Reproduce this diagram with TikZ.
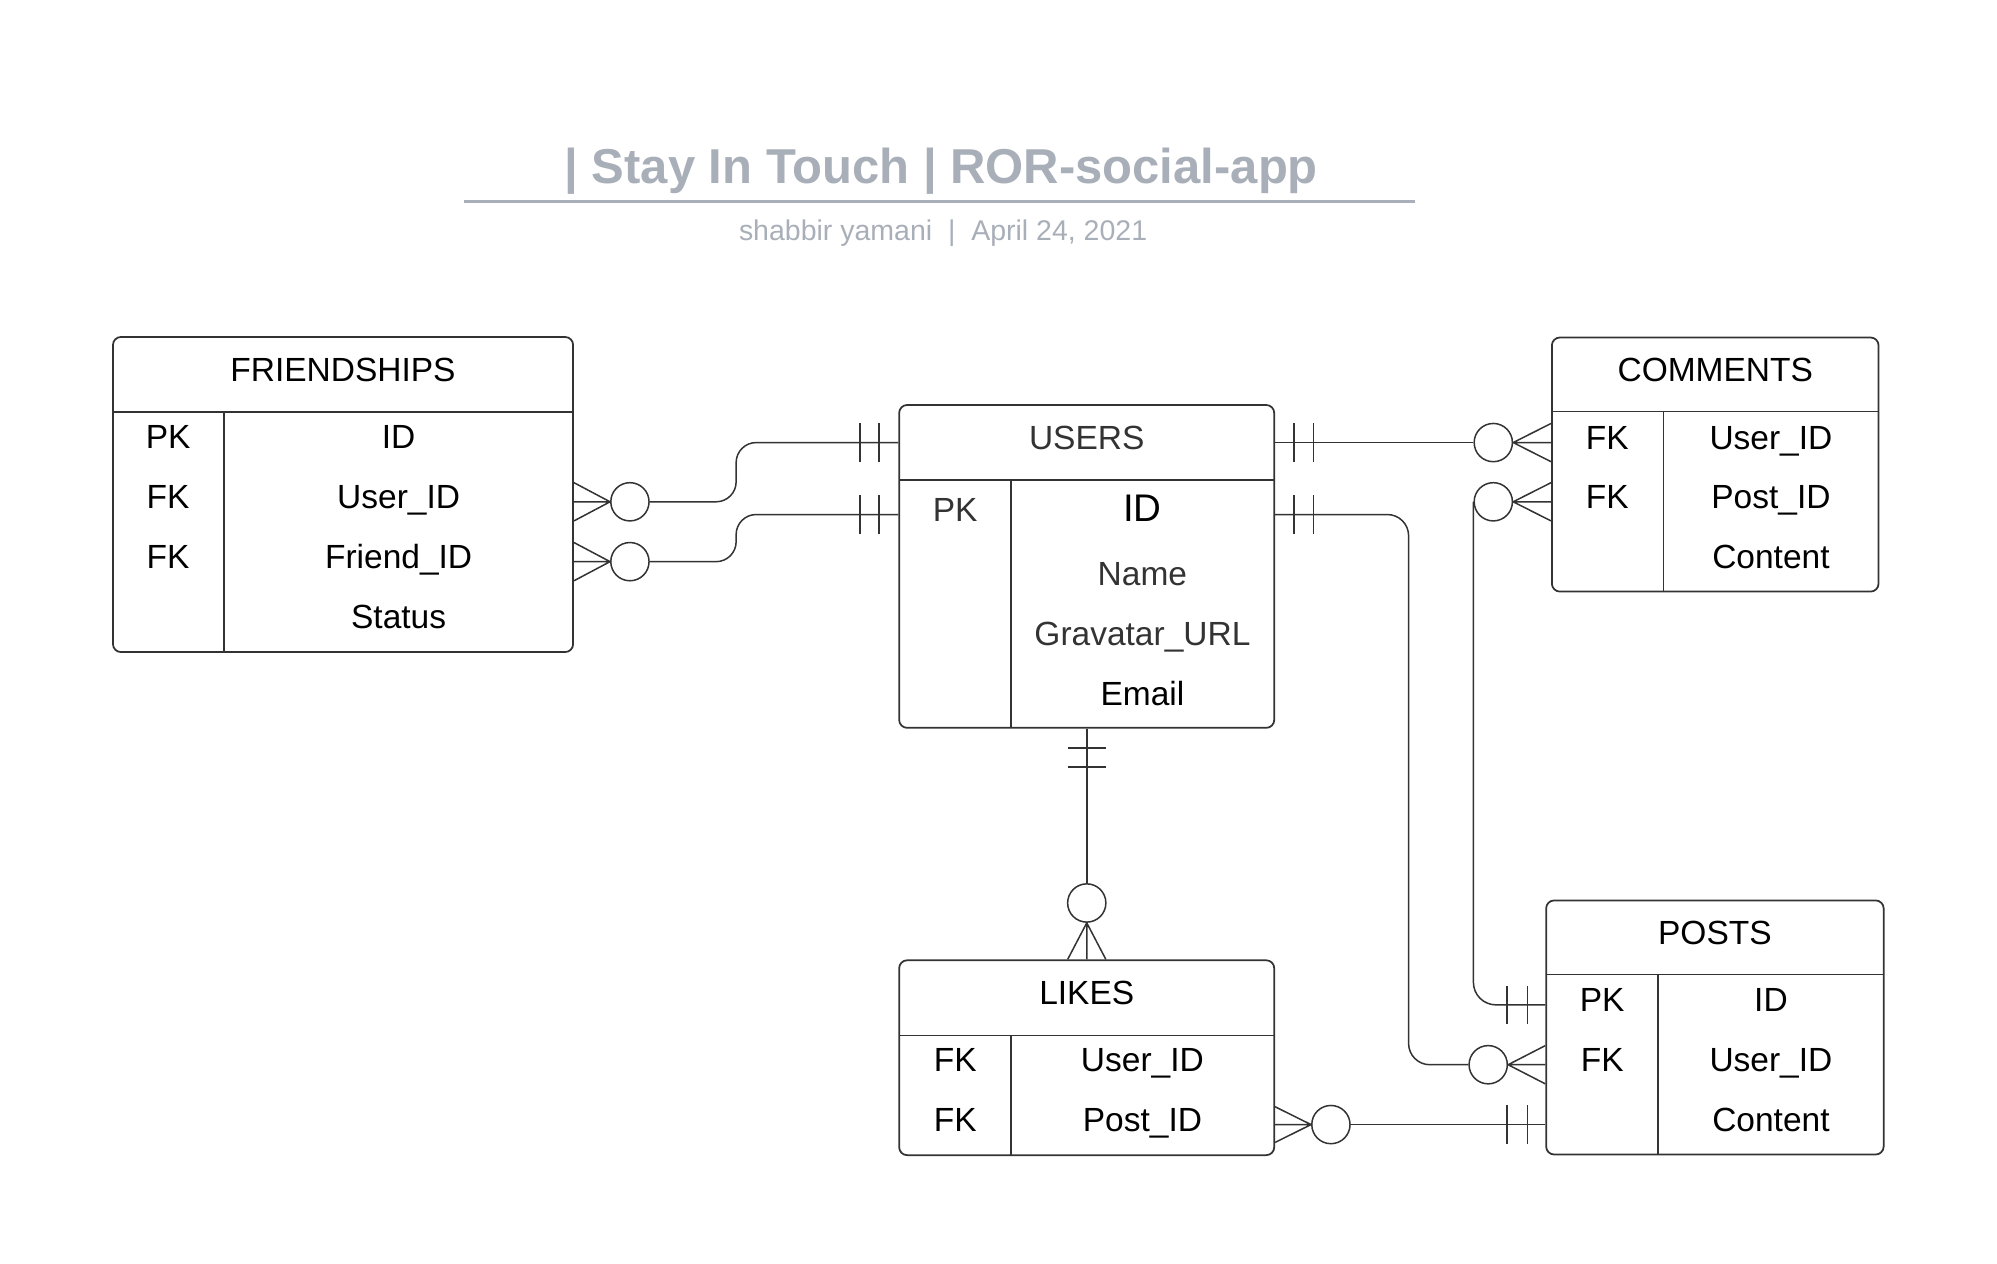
\documentclass[tikz,border=0pt]{standalone}
\usepackage{fontspec}
\setmainfont{Liberation Sans}
\usepackage{xcolor}
\usetikzlibrary{fit,calc}
\definecolor{ink}{HTML}{333333}
\definecolor{titlegray}{HTML}{A9AFB8}

\begin{document}
\begin{tikzpicture}[x=0.50944pt, y=-0.50944pt,
  tbl/.style={draw=ink, line width=0.7pt, rounded corners=3.2pt, inner sep=0pt},
  sep/.style={draw=ink, line width=0.6pt},
  rel/.style={draw=ink, line width=0.6pt},
  txt/.style={font=\fontsize{13.4}{16}\selectfont, text height=9.65pt, text depth=4.1pt, inner sep=0pt},
  grey/.style={txt, text=ink},
  big/.style={font=\fontsize{15.4}{18}\selectfont, text height=11.1pt, text depth=5.2pt, inner sep=0pt},
  ring/.style={circle, draw=ink, line width=0.6pt, minimum size=15.3pt, inner sep=0pt, fill=white}]
  \useasboundingbox (0,0) rectangle (1568,992);

  % title block
  \node[font=\fontsize{19.6}{23}\selectfont\bfseries, text=titlegray, anchor=base] (title) at (739,144) {| Stay In Touch | ROR-social-app};
  \draw[titlegray, line width=1.2pt] (364,158.3) -- (1111,158.3);
  \node[font=\fontsize{11.4}{14}\selectfont, text=titlegray, anchor=base] (byline) at (740.5,188.5) {shabbir yamani\ \ |\ \ April 24, 2021};

  % friendships
  \node[tbl, fit={(88.7,264.6) (450,512)}] (friendships) {};
  \draw[sep] (88.7,323.5) -- (450,323.5) (176,323.5) -- (176,512);
  \node[txt] (fhead) at (269.3,294) {FRIENDSHIPS};
  \node[txt] (fk1) at (132,347) {PK};
  \node[txt] (fk2) at (132,394) {FK};
  \node[txt] (fk3) at (132,441) {FK};
  \node[txt] (fid) at (313,347) {ID};
  \node[txt] (fuser) at (313,394) {User\_ID};
  \node[txt] (ffriend) at (313,441) {Friend\_ID};
  \node[txt] (fstatus) at (313,488) {Status};

  % users
  \node[tbl, fit={(706,318) (1000.5,571.5)}] (users) {};
  \draw[sep] (706,377) -- (1000.5,377) (794,377) -- (794,571.5);
  \node[grey] (uhead) at (853.3,347.5) {USERS};
  \node[grey] (ukey) at (750,404) {PK};
  \node[big] (uid) at (897,404) {ID};
  \node[grey] (uname) at (897,454.5) {Name};
  \node[grey] (ugrav) at (897,501.5) {Gravatar\_URL};
  \node[txt] (umail) at (897,548.5) {Email};

  % comments
  \node[tbl, fit={(1218.5,265) (1475,464.5)}] (comments) {};
  \draw[sep] (1218.5,323) -- (1475,323) (1306,323) -- (1306,464.5);
  \node[txt] (chead) at (1346.8,294) {COMMENTS};
  \node[txt] (ck1) at (1262,347.5) {FK};
  \node[txt] (ck2) at (1262,394) {FK};
  \node[txt] (cuser) at (1390.5,347.5) {User\_ID};
  \node[txt] (cpost) at (1390.5,394) {Post\_ID};
  \node[txt] (ctext) at (1390.5,441) {Content};

  % posts
  \node[tbl, fit={(1214,707) (1479,906.5)}] (posts) {};
  \draw[sep] (1214,765) -- (1479,765) (1302,765) -- (1302,906.5);
  \node[txt] (phead) at (1346.5,736) {POSTS};
  \node[txt] (pk1) at (1258,789) {PK};
  \node[txt] (pk2) at (1258,836) {FK};
  \node[txt] (pid) at (1390.5,789) {ID};
  \node[txt] (puser) at (1390.5,836) {User\_ID};
  \node[txt] (ptext) at (1390.5,883) {Content};

  % likes
  \node[tbl, fit={(706,754) (1000.5,907)}] (likes) {};
  \draw[sep] (706,813) -- (1000.5,813) (794,813) -- (794,907);
  \node[txt] (lhead) at (853.3,783.5) {LIKES};
  \node[txt] (lk1) at (750,836) {FK};
  \node[txt] (lk2) at (750,883) {FK};
  \node[txt] (luser) at (897,836) {User\_ID};
  \node[txt] (lpost) at (897,883) {Post\_ID};

  % relations
  \coordinate (bend1) at (578,0);
  \coordinate (bend2) at (1106,0);
  \node[ring] (r1) at (494.6,394) {};
  \node[ring] (r2) at (494.6,441) {};
  \node[ring] (r3) at (1172.5,347.5) {};
  \node[ring] (r4) at (1172.5,394) {};
  \node[ring] (r5) at (1168.5,836) {};
  \node[ring] (r6) at (1045,883) {};
  \node[ring] (r7) at (853.3,709) {};

  \draw[rel, rounded corners=8pt] (users.west |- uhead) -| (bend1 |- r1) -- (r1);
  \draw[rel, rounded corners=8pt] (users.west |- uid) -| (bend1 |- r2) -- (r2);
  \draw[rel] (users.east |- r3) -- (r3);
  \draw[rel, rounded corners=9pt] (posts.west |- pid) -| (r4.west);
  \draw[rel, rounded corners=8.5pt] (users.east |- uid) -| (bend2 |- r5) -- (r5);
  \draw[rel] (r6) -- (posts.west |- r6);
  \draw[rel] (users.south -| r7) -- (r7);

  % crow's feet
  \draw[rel] ($(friendships.east |- r1)+(0,-15)$) -- (r1.west) -- ($(friendships.east |- r1)+(0,15)$) (friendships.east |- r1) -- (r1.west);
  \draw[rel] ($(friendships.east |- r2)+(0,-15)$) -- (r2.west) -- ($(friendships.east |- r2)+(0,15)$) (friendships.east |- r2) -- (r2.west);
  \draw[rel] ($(comments.west |- r3)+(0,-15)$) -- (r3.east) -- ($(comments.west |- r3)+(0,15)$) (comments.west |- r3) -- (r3.east);
  \draw[rel] ($(comments.west |- r4)+(0,-15)$) -- (r4.east) -- ($(comments.west |- r4)+(0,15)$) (comments.west |- r4) -- (r4.east);
  \draw[rel] ($(posts.west |- r5)+(0,-15)$) -- (r5.east) -- ($(posts.west |- r5)+(0,15)$) (posts.west |- r5) -- (r5.east);
  \draw[rel] ($(likes.east |- r6)+(0,-14)$) -- (r6.west) -- ($(likes.east |- r6)+(0,14)$) (likes.east |- r6) -- (r6.west);
  \draw[rel] ($(likes.north -| r7)+(-15,0)$) -- (r7.south) -- ($(likes.north -| r7)+(15,0)$) (likes.north -| r7) -- (r7.south);

  % one-and-only-one bars
  \draw[rel] ($(users.west |- uhead)+(-15,-15)$) -- +(0,30) ($(users.west |- uhead)+(-30,-15)$) -- +(0,30);
  \draw[rel] ($(users.west |- uid)+(-15,-15)$) -- +(0,30) ($(users.west |- uid)+(-30,-15)$) -- +(0,30);
  \draw[rel] ($(users.east |- r3)+(15,-15)$) -- +(0,30) ($(users.east |- r3)+(30,-15)$) -- +(0,30);
  \draw[rel] ($(users.east |- uid)+(15,-15)$) -- +(0,30) ($(users.east |- uid)+(30,-15)$) -- +(0,30);
  \draw[rel] ($(users.south -| r7)+(-15,15)$) -- +(30,0) ($(users.south -| r7)+(-15,30)$) -- +(30,0);
  \draw[rel] ($(posts.west |- pid)+(-14,-15)$) -- +(0,30) ($(posts.west |- pid)+(-30,-15)$) -- +(0,30);
  \draw[rel] ($(posts.west |- r6)+(-14,-15)$) -- +(0,30) ($(posts.west |- r6)+(-30,-15)$) -- +(0,30);
\end{tikzpicture}
\end{document}
